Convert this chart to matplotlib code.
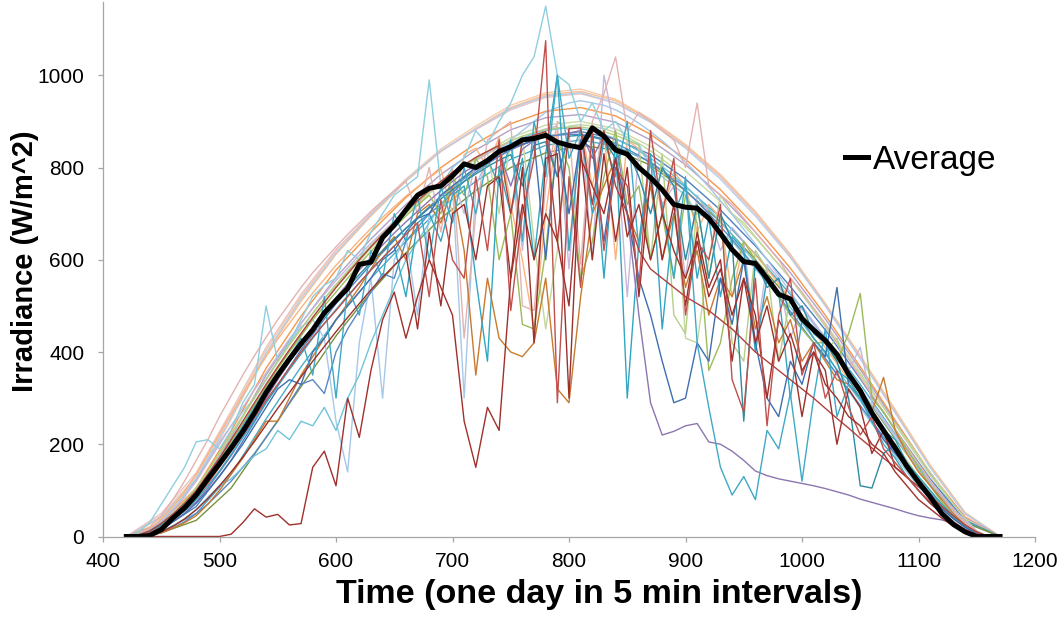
"""
plot.py

Daily irradiance profiles (5 min samples) for a set of days, with the
average profile drawn on top in black.
"""

import matplotlib
matplotlib.use("Agg")
import matplotlib.pyplot as plt

plt.rcParams["font.family"] = ["Liberation Sans", "DejaVu Sans"]

# time axis, 5 min steps (index of the day)
TIME_COARSE = list(range(420, 1171, 30))   # smooth clear-sky days
TIME_FINE = list(range(420, 1171, 10))     # cloudy days + average

# ----------------------------------------------------------------------
# Clear-ish days (W/m^2), sampled on TIME_COARSE
# ----------------------------------------------------------------------
clear_top = [0, 45, 130, 265, 405, 520, 620, 700, 775, 840,
             890, 935, 962, 970, 948, 905, 850, 785, 705, 612,
             505, 390, 272, 152, 50, 0]
clear_peach = [0, 40, 120, 255, 395, 510, 612, 695, 770, 835,
               885, 930, 958, 965, 945, 902, 848, 782, 702, 610,
               505, 392, 275, 155, 52, 0]
clear_pink = [0, 50, 138, 272, 410, 525, 622, 700, 772, 835,
              882, 925, 952, 960, 940, 900, 845, 780, 700, 608,
              502, 388, 270, 150, 48, 0]
clear_sky = [0, 42, 125, 258, 398, 515, 615, 698, 772, 836,
             884, 928, 955, 962, 940, 898, 842, 775, 695, 605,
             500, 385, 268, 150, 50, 0]
clear_orange = [0, 30, 105, 228, 365, 478, 578, 660, 735, 800,
                852, 895, 922, 930, 912, 872, 818, 752, 672, 582,
                480, 368, 252, 138, 42, 0]
clear_lilac = [0, 25, 95, 215, 350, 462, 562, 645, 720, 785,
               838, 882, 908, 915, 898, 860, 806, 740, 660, 572,
               472, 362, 248, 135, 40, 0]
clear_lime = [0, 20, 82, 195, 325, 440, 540, 625, 700, 765,
              820, 865, 892, 900, 884, 846, 792, 726, 648, 560,
              462, 355, 242, 132, 38, 0]
clear_blue = [0, 15, 65, 165, 290, 405, 505, 590, 668, 738,
              795, 840, 868, 878, 862, 828, 775, 708, 630, 542,
              448, 342, 232, 125, 35, 0]
clear_cyan = [0, 10, 50, 135, 255, 368, 470, 560, 640, 712,
              770, 818, 848, 860, 846, 812, 758, 692, 612, 525,
              432, 330, 222, 118, 32, 0]
clear_low = [0, 8, 35, 105, 215, 325, 435, 530, 615, 690,
             750, 800, 832, 848, 838, 805, 750, 682, 600, 512,
             418, 318, 212, 112, 30, 0]

CLEAR_DAYS = [
    (clear_top, "#F5CBAE"), (clear_peach, "#FAC090"), (clear_pink, "#EBC3C2"),
    (clear_sky, "#B9CDE5"), (clear_orange, "#F79646"), (clear_lilac, "#B3A2C7"),
    (clear_lime, "#C9DBA5"), (clear_blue, "#4F81BD"), (clear_cyan, "#4BACC6"),
    (clear_low, "#77933C"),
]

# ----------------------------------------------------------------------
# Cloudy days (W/m^2), sampled on TIME_FINE
# ----------------------------------------------------------------------
cloudy_darkred = [0, 0, 0, 0, 0, 0, 0, 0, 0, 5,
                  30, 60, 42, 48, 25, 28, 150, 185, 110, 300,
                  215, 360, 470, 530, 430, 520, 600, 540, 480, 250,
                  150, 280, 230, 560, 720, 600, 700, 640, 500, 820,
                  760, 700, 820, 650, 720, 600, 700, 620, 560, 640,
                  520, 580, 480, 560, 420, 500, 380, 440, 360, 400,
                  330, 300, 260, 240, 200, 180, 140, 110, 80, 60,
                  40, 22, 10, 0, 0, 0]
cloudy_lightblue = [0, 8, 30, 70, 110, 150, 205, 210, 190, 230,
                    290, 330, 500, 380, 420, 470, 520, 545, 560, 620,
                    600, 660, 700, 740, 760, 780, 990, 760, 800, 820,
                    880, 850, 900, 940, 1000, 1040, 1150, 1000, 980, 900,
                    940, 880, 900, 860, 850, 800, 780, 760, 740, 700,
                    690, 660, 640, 610, 580, 550, 520, 480, 450, 420,
                    385, 350, 315, 280, 245, 210, 175, 140, 108, 80,
                    55, 32, 15, 5, 0, 0]
cloudy_purple = [0, 2, 10, 22, 38, 55, 75, 105, 140, 175,
                 215, 258, 300, 340, 378, 415, 450, 485, 518, 548,
                 578, 605, 632, 658, 682, 705, 728, 750, 770, 790,
                 805, 820, 835, 760, 840, 858, 870, 780, 875, 880,
                 820, 870, 860, 700, 480, 290, 220, 228, 240, 245,
                 205, 200, 185, 165, 142, 132, 125, 120, 115, 110,
                 104, 97, 90, 81, 74, 67, 60, 52, 45, 40,
                 36, 28, 15, 3, 0, 0]
cloudy_cyan = [0, 3, 12, 28, 48, 70, 95, 130, 165, 200,
               240, 280, 320, 355, 390, 430, 350, 520, 300, 540,
               480, 620, 560, 700, 640, 740, 600, 760, 680, 800,
               700, 820, 760, 860, 640, 900, 780, 1000, 820, 880,
               700, 860, 780, 900, 620, 820, 720, 560, 780, 420,
               280, 150, 90, 130, 80, 230, 190, 310, 120, 300,
               450, 260, 330, 300, 250, 200, 170, 130, 100, 72,
               50, 30, 15, 5, 0, 0]
cloudy_darkblue = [0, 2, 8, 18, 32, 50, 72, 100, 130, 165,
                   200, 240, 280, 320, 340, 330, 400, 430, 470, 500,
                   530, 560, 600, 620, 660, 690, 700, 740, 760, 780,
                   800, 810, 830, 845, 850, 860, 600, 858, 700, 860,
                   840, 640, 820, 700, 560, 480, 380, 290, 300, 420,
                   380, 560, 460, 600, 420, 300, 260, 380, 330, 420,
                   390, 540, 330, 300, 250, 210, 180, 150, 115, 85,
                   60, 38, 20, 6, 0, 0]
cloudy_brown = [0, 0, 2, 8, 18, 30, 45, 70, 100, 135,
                170, 210, 250, 250, 300, 350, 390, 430, 470, 505,
                540, 580, 620, 650, 600, 700, 720, 680, 760, 620,
                350, 560, 430, 400, 390, 420, 560, 320, 290, 520,
                700, 760, 820, 700, 640, 760, 600, 700, 540, 620,
                480, 560, 520, 600, 450, 520, 420, 470, 380, 420,
                380, 340, 330, 300, 270, 345, 230, 180, 140, 110,
                80, 50, 25, 8, 0, 0]
cloudy_green = [0, 2, 10, 25, 45, 68, 95, 130, 168, 205,
                245, 285, 325, 365, 400, 435, 470, 500, 530, 560,
                590, 618, 645, 670, 695, 718, 740, 700, 780, 740,
                820, 780, 600, 700, 460, 450, 620, 860, 800, 560,
                640, 780, 880, 720, 760, 600, 700, 560, 740, 680,
                360, 420, 560, 640, 600, 560, 520, 480, 450, 420,
                420, 380, 440, 527, 300, 270, 230, 190, 150, 110,
                75, 45, 22, 6, 0, 0]
cloudy_pink = [0, 5, 20, 45, 80, 120, 165, 210, 260, 305,
               350, 392, 432, 470, 505, 540, 572, 600, 628, 655,
               680, 705, 728, 750, 770, 700, 800, 660, 800, 430,
               700, 860, 880, 900, 500, 490, 760, 900, 880, 590,
               900, 960, 1040, 880, 920, 900, 880, 860, 800, 940,
               760, 740, 720, 690, 660, 630, 600, 560, 530, 495,
               460, 420, 385, 345, 308, 270, 232, 195, 158, 122,
               88, 58, 30, 10, 0, 0]
cloudy_red = [0, 2, 8, 20, 38, 60, 85, 115, 150, 185,
              220, 258, 295, 330, 365, 400, 432, 462, 490, 520,
              550, 578, 604, 630, 655, 680, 520, 730, 600, 560,
              780, 620, 860, 490, 700, 820, 1075, 290, 780, 540,
              880, 620, 800, 760, 540, 880, 700, 820, 480, 640,
              600, 720, 340, 270, 560, 240, 480, 560, 350, 420,
              300, 360, 280, 220, 260, 190, 160, 130, 100, 75,
              52, 32, 15, 5, 0, 0]
cloudy_rust = [0, 3, 12, 28, 48, 72, 100, 135, 170, 210,
               250, 290, 330, 368, 405, 440, 475, 508, 540, 570,
               600, 628, 655, 680, 705, 728, 750, 770, 790, 806,
               822, 835, 848, 700, 860, 870, 878, 640, 884, 886,
               720, 880, 760, 700, 620, 580, 560, 540, 520, 505,
               490, 470, 450, 425, 400, 380, 360, 340, 320, 300,
               278, 256, 235, 213, 192, 170, 150, 128, 108, 88,
               65, 45, 25, 10, 0, 0]
cloudy_teal = [0, 2, 10, 24, 42, 64, 90, 122, 158, 195,
               232, 270, 308, 345, 380, 415, 448, 480, 510, 540,
               568, 595, 620, 645, 668, 690, 712, 732, 752, 770,
               786, 802, 816, 828, 760, 848, 856, 780, 868, 870,
               866, 860, 820, 840, 780, 700, 800, 760, 600, 720,
               560, 700, 640, 250, 600, 540, 560, 480, 500, 440,
               420, 380, 300, 110, 105, 180, 200, 150, 120, 90,
               62, 40, 20, 6, 0, 0]
cloudy_paleblue = [0, 4, 15, 35, 60, 90, 125, 165, 205, 240,
                   270, 300, 340, 380, 420, 455, 470, 430, 250, 140,
                   420, 560, 300, 600, 650, 480, 700, 740, 760, 300,
                   760, 820, 840, 860, 880, 900, 920, 930, 940, 945,
                   940, 935, 925, 912, 896, 878, 858, 836, 812, 786,
                   758, 728, 698, 666, 634, 600, 566, 530, 495, 460,
                   425, 390, 355, 320, 285, 250, 215, 180, 145, 112,
                   82, 55, 30, 10, 0, 0]
cloudy_palegreen = [0, 3, 12, 28, 50, 75, 105, 140, 180, 220,
                    260, 300, 340, 378, 415, 450, 484, 516, 546, 575,
                    603, 630, 655, 680, 703, 725, 746, 766, 785, 802,
                    818, 832, 700, 858, 868, 640, 450, 620, 890, 893,
                    890, 884, 876, 866, 852, 836, 818, 798, 430, 420,
                    600, 740, 700, 680, 650, 620, 590, 560, 525, 490,
                    455, 420, 385, 350, 315, 280, 245, 210, 175, 140,
                    105, 70, 38, 12, 0, 0]
cloudy_apricot = [0, 4, 16, 38, 65, 98, 135, 178, 222, 265,
                  308, 350, 390, 428, 462, 496, 528, 558, 588, 615,
                  642, 668, 692, 715, 738, 758, 778, 796, 700, 828,
                  842, 800, 866, 720, 600, 450, 700, 880, 620, 890,
                  760, 880, 600, 860, 840, 820, 700, 790, 760, 660,
                  720, 690, 520, 640, 610, 580, 548, 515, 480, 445,
                  410, 375, 340, 302, 265, 230, 195, 160, 125, 95,
                  66, 40, 20, 6, 0, 0]
cloudy_lavender = [0, 3, 14, 32, 56, 86, 120, 160, 200, 240,
                   280, 318, 355, 392, 428, 462, 494, 525, 555, 582,
                   610, 636, 660, 684, 706, 728, 748, 766, 784, 700,
                   815, 830, 844, 856, 620, 876, 884, 890, 580, 895,
                   600, 1000, 870, 520, 840, 810, 720, 760, 560, 740,
                   700, 620, 670, 640, 420, 590, 560, 430, 500, 465,
                   430, 395, 360, 410, 290, 255, 220, 185, 150, 118,
                   88, 60, 34, 12, 0, 0]
cloudy_turquoise = [0, 2, 8, 20, 36, 56, 80, 110, 142, 178,
                    215, 252, 290, 326, 362, 396, 430, 462, 492, 522,
                    550, 578, 604, 630, 520, 680, 700, 640, 740, 760,
                    560, 380, 800, 700, 820, 600, 830, 1000, 620, 860,
                    880, 560, 860, 300, 640, 830, 450, 700, 760, 560,
                    690, 520, 650, 620, 400, 560, 530, 300, 470, 430,
                    400, 360, 340, 300, 270, 230, 210, 160, 130, 100,
                    70, 45, 22, 6, 0, 0]
cloudy_maroon = [0, 0, 3, 10, 22, 38, 58, 82, 110, 140,
                 172, 206, 242, 278, 312, 346, 380, 412, 444, 475,
                 505, 535, 562, 588, 614, 450, 660, 500, 700, 720,
                 600, 760, 780, 560, 800, 420, 820, 830, 300, 840,
                 600, 830, 640, 800, 520, 780, 600, 720, 500, 660,
                 540, 600, 380, 560, 480, 300, 470, 420, 260, 400,
                 360, 200, 320, 280, 180, 230, 150, 130, 100, 72,
                 50, 30, 14, 4, 0, 0]
cloudy_olive = [0, 3, 12, 28, 50, 76, 106, 142, 182, 222,
                262, 302, 342, 380, 416, 450, 484, 516, 546, 575,
                603, 630, 656, 680, 704, 726, 748, 768, 786, 804,
                820, 834, 846, 858, 868, 876, 882, 886, 888, 888,
                884, 878, 870, 860, 848, 600, 830, 480, 440, 720,
                560, 700, 420, 380, 620, 580, 380, 520, 470, 430,
                400, 430, 330, 300, 270, 230, 200, 165, 130, 100,
                70, 45, 22, 6, 0, 0]
cloudy_steel = [0, 0, 2, 8, 18, 32, 50, 70, 95, 120,
                150, 180, 215, 250, 290, 330, 340, 310, 400, 450,
                490, 530, 570, 560, 640, 670, 700, 720, 745, 770,
                790, 808, 824, 838, 850, 860, 866, 870, 872, 872,
                868, 862, 852, 840, 826, 810, 792, 772, 750, 726,
                700, 672, 644, 614, 584, 552, 520, 488, 454, 420,
                386, 352, 318, 284, 250, 216, 184, 152, 122, 94,
                68, 44, 24, 8, 0, 0]
cloudy_aqua = [0, 0, 3, 10, 22, 38, 58, 85, 110, 125,
               150, 175, 190, 230, 210, 250, 240, 280, 230, 300,
               350, 420, 480, 540, 600, 640, 680, 720, 750, 780,
               800, 820, 838, 852, 864, 874, 880, 884, 886, 884,
               880, 872, 862, 850, 836, 820, 802, 782, 760, 736,
               710, 682, 654, 624, 594, 562, 530, 497, 463, 430,
               396, 362, 328, 294, 260, 226, 193, 160, 128, 98,
               70, 45, 24, 8, 0, 0]

CLOUDY_DAYS = [
    (cloudy_palegreen, "#C3D69B"), (cloudy_paleblue, "#A6C8E8"),
    (cloudy_apricot, "#F9B482"), (cloudy_lavender, "#C6B8DB"),
    (cloudy_pink, "#E3B3B2"), (cloudy_lightblue, "#8ECFE0"),
    (cloudy_steel, "#5B87C5"), (cloudy_aqua, "#70C4D8"),
    (cloudy_olive, "#B5CE86"), (cloudy_purple, "#8C76B0"),
    (cloudy_green, "#9BBB59"), (cloudy_brown, "#C87A2E"),
    (cloudy_teal, "#2E8BA0"), (cloudy_turquoise, "#31A5C2"),
    (cloudy_darkblue, "#3F6FAF"), (cloudy_cyan, "#3FA9C5"),
    (cloudy_rust, "#B0413C"), (cloudy_maroon, "#9B2F2B"),
    (cloudy_red, "#C0504D"), (cloudy_darkred, "#A0302B"),
]

# Average over all days, sampled on TIME_FINE
average = [0, 0, 2, 15, 40, 62, 90, 125, 158, 192,
           228, 268, 312, 350, 385, 418, 448, 485, 512, 538,
           590, 595, 648, 675, 708, 740, 755, 760, 782, 808,
           800, 815, 835, 845, 860, 863, 870, 855, 848, 843,
           886, 868, 838, 829, 800, 778, 752, 720, 714, 712,
           690, 657, 622, 596, 592, 560, 525, 515, 472, 448,
           425, 395, 352, 316, 268, 230, 192, 152, 118, 86,
           50, 26, 10, 0, 0, 0]


def plot_irradiance(out_path):
    fig = plt.figure(figsize=(10.64, 6.2), dpi=100)
    ax = fig.add_axes([103 / 1064, 83.5 / 620, 932 / 1064, 535 / 620])

    for values, color in CLEAR_DAYS:
        ax.plot(TIME_COARSE, values, color=color, lw=1.0)
    for values, color in CLOUDY_DAYS:
        ax.plot(TIME_FINE, values, color=color, lw=1.0)
    ax.plot(TIME_FINE, average, color="black", lw=3.6, label="Average",
            solid_joinstyle="round")

    ax.set_xlim(400, 1200)
    ax.set_ylim(0, 1160)
    ax.set_xticks(range(400, 1201, 100))
    ax.set_yticks(range(0, 1001, 200))

    for side in ("top", "right"):
        ax.spines[side].set_visible(False)
    for side in ("left", "bottom"):
        ax.spines[side].set_color("#A6A6A6")
        ax.spines[side].set_linewidth(0.9)
    ax.tick_params(axis="both", colors="#A6A6A6", labelcolor="black",
                   labelsize=15, length=3.5, width=0.9, direction="out")
    ax.tick_params(axis="y", pad=10)
    ax.tick_params(axis="x", pad=8)

    ax.set_xlabel("Time (one day in 5 min intervals)", fontsize=24.5,
                  fontweight="bold", va="center")
    ax.xaxis.set_label_coords(0.532, -0.108)
    ax.set_ylabel("Irradiance (W/m^2)", fontsize=21, fontweight="bold",
                  va="center")
    ax.yaxis.set_label_coords(-0.084, 0.515)

    fig.legend(loc="center left", bbox_to_anchor=(845 / 1064, 1 - 160 / 620),
               frameon=False, fontsize=24, handlelength=0.7,
               handletextpad=0.15, borderpad=0, borderaxespad=0)

    fig.savefig(out_path, dpi=100)
    plt.close(fig)


def main():
    plot_irradiance("out.png")


if __name__ == "__main__":
    main()
